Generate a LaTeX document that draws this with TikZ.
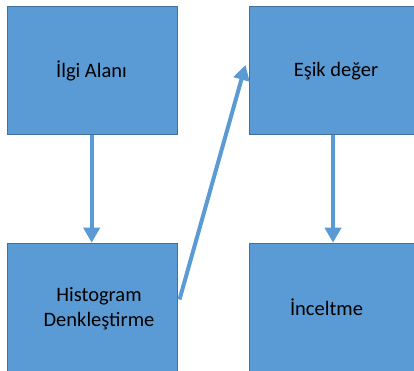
\documentclass[tikz,border=0pt]{standalone}
\usepackage{fontspec}
\setmainfont{Carlito}
\usetikzlibrary{arrows.meta}
\definecolor{boxfill}{HTML}{5B9BD5}
\definecolor{boxline}{HTML}{41719C}
\tikzset{
  stepbox/.style={draw=boxline, line width=0.8pt, fill=boxfill, minimum width=169.4pt, minimum height=128pt, inner sep=0pt, anchor=north west},
  lbl/.style={font=\fontsize{20.5}{25}\selectfont, align=center, text=black, inner sep=0pt},
  conn/.style={draw=boxfill, line width=4pt, -{Triangle[length=15pt,width=16pt]}}
}
\begin{document}
\begin{tikzpicture}[x=1pt,y=-1pt]
\useasboundingbox (0,0) rectangle (414,371);
\node[stepbox] (ilgi) at (7.3,6) {};
\node[stepbox] (esik) at (248.7,6) {};
\node[stepbox] (hist) at (7.3,242.7) {};
\node[stepbox] (incel) at (248.7,242.7) {};
\node[lbl] (tilgi) at (91.5,71) {İlgi Alanı};
\node[lbl] (tesik) at (336,71) {Eşik değer};
\node[lbl] (thist) at (99,309) {Histogram\\Denkleştirme};
\node[lbl] (tincel) at (326.5,307.5) {İnceltme};
\coordinate (hstart) at (179.5,299.5);
\coordinate (eend) at (245.5,65);
\draw[conn] (ilgi.south -| 91.7,0) -- (hist.north -| 91.7,0);
\draw[conn] (esik.south -| 333,0) -- (incel.north -| 333,0);
\draw[conn] (hstart) -- (eend);
\end{tikzpicture}
\end{document}
